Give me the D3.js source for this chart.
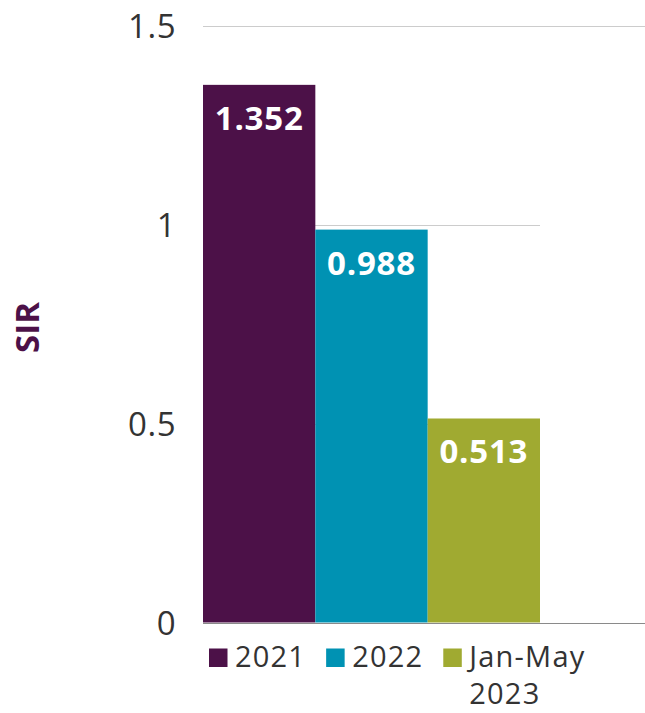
<!DOCTYPE html>
<html>
<head>
<meta charset="utf-8">
<script src="https://cdn.jsdelivr.net/npm/d3@7"></script>
<style>
  html, body { margin: 0; padding: 0; background: #fff; }
  svg { display: block; font-family: "Open Sans", "DejaVu Sans", sans-serif; }
</style>
</head>
<body>
<svg id="chart" width="645" height="713"></svg>
<script>
const categories = ["2021", "2022", "Jan-May 2023"];
const values = [1.352, 0.988, 0.513];
const colors = ["#4C1148", "#0092B3", "#A0AA31"];
const tickValues = [0, 0.5, 1, 1.5];
const tickLabels = ["0", "0.5", "1", "1.5"];
const yTitle = "SIR";

const svg = d3.select("#chart");
const W = 645;
const plotLeft = 203, plotRight = 540;

const x = d3.scaleBand().domain(categories).range([plotLeft, plotRight]).padding(0);
const y = d3.scaleLinear().domain([0, 1.5]).range([622.5, 26]);

// gridlines
const grid = svg.append("g");
tickValues.filter(t => t !== 0).forEach(t => {
  const isTop = t === d3.max(tickValues);
  grid.append("line")
    .attr("x1", plotLeft).attr("x2", isTop ? W : plotRight)
    .attr("y1", Math.round(y(t)) + 0.5).attr("y2", Math.round(y(t)) + 0.5)
    .attr("stroke", "#cccccc").attr("stroke-width", 1.2);
});

// y axis labels via d3 axis
const yAxis = d3.axisLeft(y).tickValues(tickValues)
  .tickFormat((d, i) => tickLabels[i]).tickSize(0).tickPadding(0);
const ag = svg.append("g").attr("transform", "translate(176,0)").call(yAxis);
ag.select(".domain").remove();
ag.selectAll("text")
  .attr("font-family", "'Open Sans', sans-serif")
  .attr("font-size", 33)
  .attr("font-weight", 500)
  .attr("letter-spacing", 0.5)
  .attr("fill", "#333333")
  .attr("dy", "0.36em");

// bars
svg.append("g").selectAll("rect").data(values).join("rect")
  .attr("x", (d, i) => x(categories[i]))
  .attr("y", d => y(d))
  .attr("width", x.bandwidth())
  .attr("height", d => y(0) - y(d))
  .attr("fill", (d, i) => colors[i]);

// value labels
svg.append("g").selectAll("text").data(values).join("text")
  .attr("x", (d, i) => x(categories[i]) + x.bandwidth() / 2)
  .attr("y", d => y(d) + 45)
  .attr("text-anchor", "middle")
  .attr("font-size", 33)
  .attr("font-weight", 700)
  .attr("letter-spacing", 0.8)
  .attr("fill", "#ffffff")
  .text(d => d3.format(".3f")(d));

// baseline
svg.append("line")
  .attr("x1", plotLeft).attr("x2", W)
  .attr("y1", Math.round(y(0)) + 0.5).attr("y2", Math.round(y(0)) + 0.5)
  .attr("stroke", "#8a8a8a").attr("stroke-width", 1.2);

// y title
svg.append("text")
  .attr("transform", "translate(39,327.5) rotate(-90)")
  .attr("text-anchor", "middle")
  .attr("font-size", 33)
  .attr("font-weight", 700)
  .attr("fill", "#4C1148")
  .text(yTitle);

// legend
const lg = svg.append("g");
let lx = 209;
const legY = 667;
categories.forEach((c, i) => {
  lg.append("rect").attr("x", lx).attr("y", 648.5).attr("width", 18.5).attr("height", 18.5)
    .attr("fill", colors[i]);
  const words = c.split(" ");
  const t = lg.append("text")
    .attr("x", lx + 26).attr("y", legY)
    .attr("font-size", 29)
    .attr("font-weight", 500)
    .attr("letter-spacing", 1.2)
    .attr("fill", "#333333");
  let maxW = 0;
  if (words.length > 1) {
    words.forEach((w, k) => {
      t.append("tspan").attr("x", lx + 26).attr("y", legY + k * 37).text(w);
    });
    t.selectAll("tspan").each(function () { maxW = Math.max(maxW, this.getComputedTextLength()); });
  } else {
    t.text(c);
    maxW = t.node().getComputedTextLength();
  }
  lx = lx + 26 + maxW + 20;
});
</script>
</body>
</html>
